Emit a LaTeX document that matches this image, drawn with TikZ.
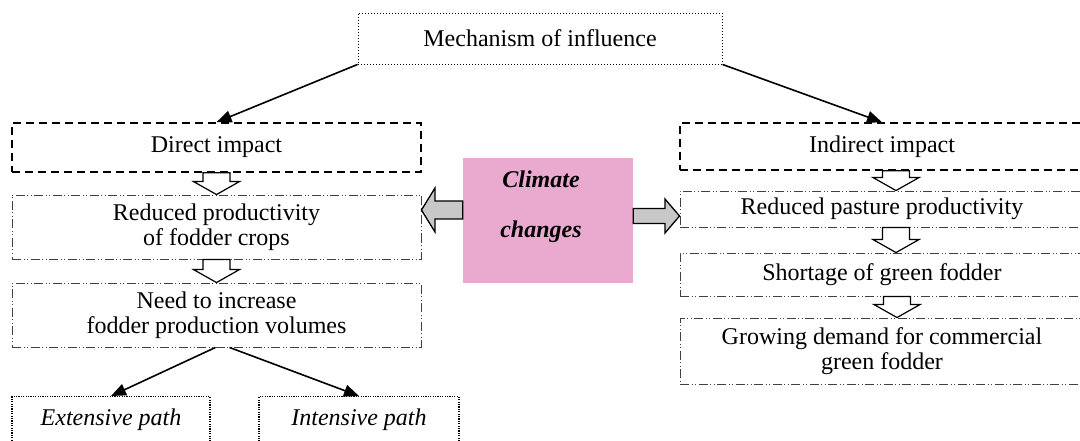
\documentclass[tikz,border=0pt]{standalone}
\usepackage{fontspec}
\setmainfont{Liberation Serif}
\usetikzlibrary{arrows.meta,calc}
\definecolor{climpink}{RGB}{234,170,208}
\definecolor{arrowgray}{RGB}{200,200,200}
\tikzset{
 base/.style={rectangle, inner sep=0pt, align=center, font=\fontsize{24}{25.5}\selectfont},
 dotbox/.style={base, draw, line width=0.9pt, dash pattern=on 1pt off 2pt},
 dashbox/.style={base, draw, line width=1.6pt, dash pattern=on 8pt off 5pt},
 ddbox/.style={base, draw=black!75, line width=0.9pt, dash pattern=on 9pt off 2.5pt on 1pt off 2.5pt on 1pt off 2.5pt},
 pathbox/.style={base, draw, line width=1.4pt, dash pattern=on 1.2pt off 1.2pt, font=\fontsize{24}{25.5}\selectfont\itshape},
 climbox/.style={rectangle, fill=climpink, inner sep=0pt},
 climtext/.style={align=center, inner sep=0pt, font=\fontsize{24}{25}\selectfont\bfseries\itshape},
 conn/.style={line width=1.6pt, -{Triangle[length=15pt,width=12pt]}},
 hollow/.style={draw, fill=white, line width=1.2pt, line join=miter},
 grayarrow/.style={draw, fill=arrowgray, line width=1.3pt, line join=miter},
}
\newcommand\hollowdown[2]{%
 \path[hollow] ($(#1)+(-13.5,0)$) -- ($(#1)+(13.5,0)$) -- ($(#2)+(13.5,-13)$) -- ($(#2)+(23,-13)$) -- (#2) -- ($(#2)+(-23,-13)$) -- ($(#2)+(-13.5,-13)$) -- cycle;}
\begin{document}
\begin{tikzpicture}[x=1pt,y=-1pt]
\useasboundingbox (0,0) rectangle (1080,441);
\clip (0,0) rectangle (1080,441);
% top
\node[dotbox, minimum width=364, minimum height=51] (mech) at (540,38.5) {Mechanism of influence};
% left column
\node[dashbox, minimum width=409, minimum height=49] (direct) at (216.5,147.5) {Direct impact};
\node[ddbox, minimum width=409, minimum height=64] (redL) at (216.5,227) {Reduced productivity\\of fodder crops};
\node[ddbox, minimum width=409, minimum height=64] (need) at (216.5,315) {Need to increase\\fodder production volumes};
\node[pathbox, anchor=north, minimum width=198, minimum height=70] (ext) at (111,396) {\raisebox{12pt}[\height][\depth]{Extensive path}};
\node[pathbox, anchor=north, minimum width=200, minimum height=70] (int) at (359,396) {\raisebox{12pt}[\height][\depth]{Intensive path}};
% right column
\node[dashbox, minimum width=404, minimum height=47] (indirect) at (882,146.5) {Indirect impact};
\node[ddbox, minimum width=404, minimum height=36] (redP) at (882,209) {Reduced pasture productivity};
\node[ddbox, minimum width=404, minimum height=43] (short) at (882,274.5) {Shortage of green fodder};
\node[ddbox, minimum width=404, minimum height=66] (grow) at (882,351) {Growing demand for commercial\\green fodder};
% centre
\node[climbox, minimum width=170, minimum height=125] (climate) at (548,220.5) {};
\node[climtext] (ctext) at (541,207) {Climate\\[25pt]changes};
% gray block arrows
\path[grayarrow] (climate.west |- 0,201) -- (435,201) -- (435,188) -- (redL.east |- 0,210) -- (435,232) -- (435,219) -- (climate.west |- 0,219) -- cycle;
\path[grayarrow] (climate.east |- 0,208.5) -- (665,208.5) -- (665,199) -- (redP.west |- 0,216) -- (665,233) -- (665,223.5) -- (climate.east |- 0,223.5) -- cycle;
% connectors
\draw[conn] (mech.south west) -- (direct.north);
\draw[conn] (mech.south east) -- (indirect.north);
\draw[conn] ([xshift=-1pt]need.south) -- (ext.north);
\draw[conn] ([xshift=13pt]need.south) -- (int.north);
% hollow arrows
\hollowdown{direct.south}{redL.north}
\hollowdown{redL.south}{need.north}
\coordinate (r1t) at ($(indirect.south)+(14,0)$);
\coordinate (r1b) at ($(redP.north)+(14,0)$);
\coordinate (r2t) at ($(redP.south)+(14,0)$);
\coordinate (r2b) at ($(short.north)+(14,0)$);
\coordinate (r3t) at ($(short.south)+(15,0)$);
\coordinate (r3b) at ($(grow.north)+(15,0)$);
\hollowdown{r1t}{r1b}
\hollowdown{r2t}{r2b}
\hollowdown{r3t}{r3b}
\end{tikzpicture}
\end{document}
